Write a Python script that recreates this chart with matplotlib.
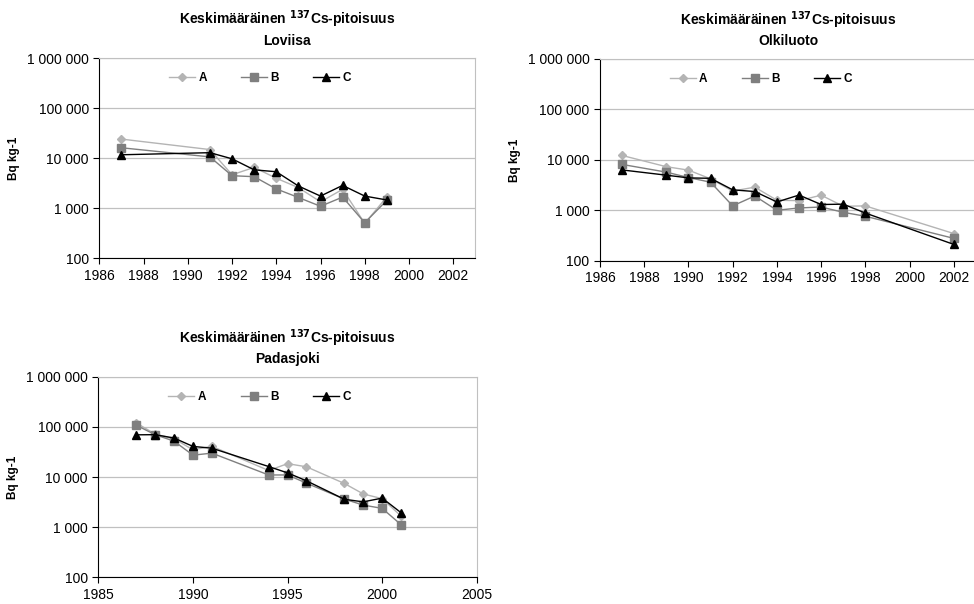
import matplotlib
matplotlib.use("Agg")
import matplotlib.pyplot as plt
from matplotlib.ticker import FixedLocator, FuncFormatter, NullLocator

plt.rcParams["font.family"] = ["Liberation Sans", "DejaVu Sans"]

# Loviisa
lov_years = [1987, 1991, 1992, 1993, 1994, 1995, 1996, 1997, 1998, 1999]
lov_a = [24300, 15000, 4700, 6600, 4000, 2600, 1350, 2400, 500, 1700]
lov_b = [16300, 10700, 4500, 4300, 2450, 1650, 1100, 1680, 515, 1450]
lov_c = [11800, 13000, 9800, 5900, 5400, 2800, 1760, 2880, 1760, 1470]

# Olkiluoto
olk_years = [1987, 1989, 1990, 1991, 1992, 1993, 1994, 1995, 1996, 1997, 1998, 2002]
olk_a = [12200, 7300, 6250, 4200, 2400, 2870, 1580, 1550, 1990, 1200, 1220, 345]
olk_b = [8100, 5700, 4450, 3600, 1220, 1920, 1000, 1110, 1160, 910, 760, 277]
olk_c = [6300, 4960, 4380, 4300, 2540, 2350, 1460, 2000, 1300, 1320, 880, 210]

# Padasjoki
pad_years = [1987, 1988, 1989, 1990, 1991, 1994, 1995, 1996, 1998, 1999, 2000, 2001]
pad_a = [120000, 72000, 58000, 35000, 41000, 13500, 18500, 16000, 7450, 4600, 3700, 1660]
pad_b = [108000, 70000, 52000, 27300, 30000, 11000, 11000, 7550, 3630, 2760, 2370, 1120]
pad_c = [69500, 70000, 60000, 40800, 37600, 16200, 12100, 8400, 3600, 3200, 3800, 1940]

title_top = "Keskimääräinen $\\mathbf{^{137}}$Cs-pitoisuus"
y_ticks = [100, 1000, 10000, 100000, 1000000]


def space_fmt(v, pos):
    return f"{int(round(v)):,}".replace(",", " ")


def draw_panel(ax, name, years, a, b, c, xlim, xticks):
    ax.plot(years, a, color="#b4b4b4", marker="D", markersize=4.5, lw=1, label="A")
    ax.plot(years, b, color="#7f7f7f", marker="s", markersize=5.5, lw=1, label="B")
    ax.plot(years, c, color="black", marker="^", markersize=5.5, lw=1, label="C")
    ax.set_yscale("log")
    ax.set_ylim(100, 1000000)
    ax.set_xlim(*xlim)
    ax.yaxis.set_major_locator(FixedLocator(y_ticks))
    ax.yaxis.set_minor_locator(NullLocator())
    ax.yaxis.set_major_formatter(FuncFormatter(space_fmt))
    ax.set_xticks(xticks)
    ax.grid(axis="y", color="#c0c0c0", lw=0.9)
    ax.set_axisbelow(True)
    for s in ("top", "right"):
        ax.spines[s].set_color("#c0c0c0")
    ax.tick_params(labelsize=10, length=4, width=0.8)
    ax.set_ylabel("Bq kg-1", fontsize=8.5, fontweight="bold", labelpad=5)
    ax.set_title(title_top + "\n" + name, fontsize=10, fontweight="bold", pad=10,
                 linespacing=1.3)
    ax.legend(loc="center left", bbox_to_anchor=(0.185, 0.9), ncol=3, frameon=False,
              prop={"weight": "bold", "size": 8.5}, handlelength=2.2,
              handletextpad=0.3, columnspacing=2.9, borderaxespad=0, borderpad=0)


fig = plt.figure(figsize=(9.74, 6.04), dpi=100)
ax1 = fig.add_axes([0.102, 0.5723, 0.386, 0.331])
ax2 = fig.add_axes([0.616, 0.5684, 0.386, 0.334])
ax3 = fig.add_axes([0.101, 0.0442, 0.3885, 0.332])

draw_panel(ax1, "Loviisa", lov_years, lov_a, lov_b, lov_c, (1986, 2003), range(1986, 2003, 2))
draw_panel(ax2, "Olkiluoto", olk_years, olk_a, olk_b, olk_c, (1986, 2003), range(1986, 2003, 2))
draw_panel(ax3, "Padasjoki", pad_years, pad_a, pad_b, pad_c, (1985, 2005), range(1985, 2006, 5))

fig.savefig("out.png", dpi=100)
